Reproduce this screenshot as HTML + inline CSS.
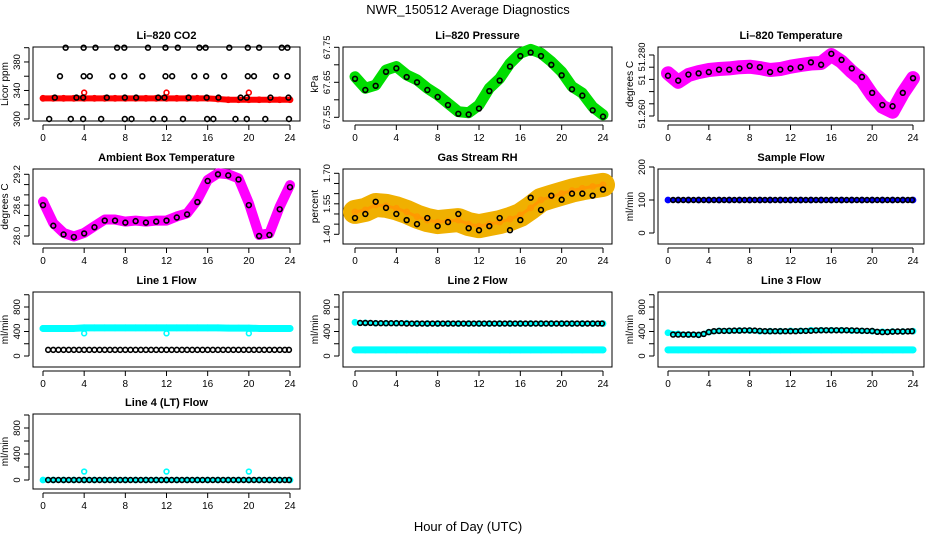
<!DOCTYPE html>
<html><head><meta charset="utf-8"><style>
body{margin:0;background:#fff}
svg{display:block;font-family:"Liberation Sans",sans-serif}
.t{font-size:11px;font-weight:bold;text-anchor:middle}
.tk{font-size:10px}
.yk{font-size:9.5px}
</style></head><body>
<svg id="c" width="936" height="540" viewBox="0 0 936 540">
<text x="468" y="14" font-size="13" text-anchor="middle">NWR_150512  Average Diagnostics</text>
<text x="468" y="531" font-size="13" text-anchor="middle">Hour of Day (UTC)</text>
</svg>
<script>
const H=[0,1,2,3,4,5,6,7,8,9,10,11,12,13,14,15,16,17,18,19,20,21,22,23,24];
const HH=[0.5,1,1.5,2,2.5,3,3.5,4,4.5,5,5.5,6,6.5,7,7.5,8,8.5,9,9.5,10,10.5,11,11.5,12,12.5,13,13.5,14,14.5,15,15.5,16,16.5,17,17.5,18,18.5,19,19.5,20,20.5,21,21.5,22,22.5,23,23.5,23.9];
// CO2
const co2Red=[329,329,329,329,329,329,329,329,329,329,329,329,329,329,329,329,329,328,327,327,327,327,327,327,327];
const co2OutH=[4,12,20], co2OutV=[337,337,337];
const co2BH=[2.2,3.95,5.1,7.2,7.9,10.2,11.9,13.1,15.2,15.8,18.1,19.9,21.0,23.2,23.75,1.65,3.95,4.55,6.75,7.9,9.65,11.9,12.55,14.7,15.85,17.6,19.9,20.5,22.65,23.75,1.15,3.25,3.9,6.2,7.95,9.05,11.2,11.8,14.15,15.9,17.05,19.2,19.8,22.1,23.85,0.6,2.7,3.9,5.65,7.95,8.6,10.7,11.8,13.6,15.95,16.55,18.7,19.8,21.6,23.9];
const co2BV=[400,400,400,400,400,400,400,400,400,400,400,400,400,400,400,360,360,360,360,360,360,360,360,360,360,360,360,360,360,360,330,330,330,330,330,330,330,330,330,330,330,330,330,330,330,300,300,300,300,300,300,300,300,300,300,300,300,300,300,300];
// Pressure
const presG=[67.666,67.633,67.642,67.685,67.695,67.671,67.657,67.633,67.614,67.59,67.566,67.563,67.585,67.633,67.661,67.704,67.733,67.744,67.733,67.709,67.68,67.638,67.619,67.58,67.557];
const presB=[67.660,67.628,67.640,67.680,67.690,67.665,67.650,67.628,67.608,67.585,67.56,67.558,67.575,67.625,67.655,67.695,67.725,67.735,67.725,67.700,67.670,67.630,67.612,67.570,67.552];
// Li-820 temperature (axis units)
const tempM=[3.5,2.8,3.36,3.6,3.77,3.85,3.9,4.0,4.04,3.93,3.77,3.85,4.04,4.18,4.3,4.34,5.0,4.45,3.63,2.95,1.72,0.76,0.35,1.86,3.1];
const tempB=[3.3,2.9,3.4,3.5,3.6,3.8,3.8,3.9,4.1,4.0,3.6,3.8,3.9,4.0,4.4,4.2,5.1,4.6,3.9,3.2,1.9,0.9,0.8,1.9,3.1];
// Box temperature
const boxM=[28.67,28.25,28.06,27.99,28.06,28.19,28.32,28.32,28.28,28.3,28.28,28.3,28.3,28.38,28.44,28.7,29.09,29.22,29.2,29.12,28.64,28.02,28.05,28.57,28.99];
const boxB=[28.6,28.2,28.03,27.98,28.05,28.17,28.3,28.3,28.26,28.29,28.26,28.28,28.3,28.36,28.42,28.66,29.07,29.2,29.18,29.1,28.6,28.0,28.02,28.52,28.95];
// RH
const rhO=[1.51,1.52,1.544,1.54,1.528,1.51,1.487,1.47,1.46,1.465,1.47,1.45,1.44,1.45,1.46,1.475,1.495,1.53,1.569,1.585,1.60,1.615,1.626,1.635,1.643];
const rhB=[1.48,1.50,1.56,1.53,1.50,1.47,1.45,1.48,1.44,1.46,1.50,1.43,1.42,1.44,1.48,1.42,1.47,1.58,1.52,1.59,1.57,1.60,1.60,1.59,1.62];
// Flows
const sampB=[100,100,100,100,100,100,100,100,100,100,100,100,100,100,100,100,100,100,100,100,100,100,100,100,100];
const sampBH=[100,100,100,100,100,100,100,100,100,100,100,100,100,100,100,100,100,100,100,100,100,100,100,100,100,100,100,100,100,100,100,100,100,100,100,100,100,100,100,100,100,100,100,100,100,100,100,100];
const l1Cy=[450,450,450,450,460,460,460,460,460,460,460,460,460,460,460,460,460,460,455,455,455,450,450,450,450];
const l1Out=[370,370,370];
const l1B=[100,100,100,100,100,100,100,100,100,100,100,100,100,100,100,100,100,100,100,100,100,100,100,100,100,100,100,100,100,100,100,100,100,100,100,100,100,100,100,100,100,100,100,100,100,100,100,100];
const l2Cy=[100,100,100,100,100,100,100,100,100,100,100,100,100,100,100,100,100,100,100,100,100,100,100,100,100];
const l2Up=[550,540,535,535,535,535,530,530,530,530,530,530,530,530,530,530,530,530,530,530,530,530,530,530,530];
const l2B=[540,540,540,535,535,535,535,535,535,530,530,530,530,530,530,530,530,530,530,530,530,530,530,530,530,530,530,530,530,530,530,530,530,530,530,530,530,530,530,530,530,530,530,530,530,530,530,530];
const l3Cy=[100,100,100,100,100,100,100,100,100,100,100,100,100,100,100,100,100,100,100,100,100,100,100,100,100];
const l3Up=[380,360,350,345,390,410,410,415,415,405,405,405,410,410,420,420,420,420,415,410,405,395,400,400,405];
const l3B=[350,350,350,350,350,345,360,390,405,410,410,412,415,415,418,418,415,410,405,405,405,405,405,405,405,410,410,412,418,420,420,420,420,420,420,418,415,412,410,408,395,390,392,398,400,400,402,405];
const l4B=[0,0,0,0,0,0,0,0,0,0,0,0,0,0,0,0,0,0,0,0,0,0,0,0,0,0,0,0,0,0,0,0,0,0,0,0,0,0,0,0,0,0,0,0,0,0,0,0];
const l4Cy=[0,0,0,0,0,0,0,0,0,0,0,0,0,0,0,0,0,0,0,0,0,0,0,0,0];
const l4Out=[130,130,130];
const outH=[4,12,20];
const xTicks=[0,4,8,12,16,20,24];

const svg=document.getElementById('c');
const NS='http://www.w3.org/2000/svg';
function el(tag,attrs,parent){const e=document.createElementNS(NS,tag);for(const k in attrs)e.setAttribute(k,attrs[k]);(parent||svg).appendChild(e);return e;}
const cols=[[33,300,43,290],[343,612,355,603],[658,924,668,913]];
const rows=[[47,121],[169,244],[292,367],[414,489]];
function lin(a,b,c,d){return v=>c+(v-a)*(d-c)/(b-a);}

function panel(o){
  const [bx0,bx1,h0,h24]=cols[o.col];const [by0,by1]=rows[o.row];
  const g=el('g',{});
  
  
  const X=lin(0,24,h0,h24);const Y=lin(o.ya[0],o.yb[0],o.ya[1],o.yb[1]);
  const t=el('text',{x:(bx0+bx1)/2,y:by0-8,class:'t'},g);t.textContent=o.title;
  
  
  const b=el('rect',{x:bx0,y:by0,width:bx1-bx0,height:by1-by0,fill:'none',stroke:'#000','stroke-width':1},g);
  
  
  el('line',{x1:X(0),x2:X(24),y1:by1+4,y2:by1+4,stroke:'#000'},g);
  xTicks.forEach(v=>{el('line',{x1:X(v),x2:X(v),y1:by1+4,y2:by1+9,stroke:'#000'},g);
    const tx=el('text',{x:X(v),y:by1+20,class:'tk','text-anchor':'middle'},g);tx.textContent=v;
    
    });
  const ax=bx0-4;
  el('line',{x1:ax,x2:ax,y1:Y(o.ticks[0]),y2:Y(o.ticks[o.ticks.length-1]),stroke:'#000'},g);
  o.ticks.forEach(v=>el('line',{x1:ax-5,x2:ax,y1:Y(v),y2:Y(v),stroke:'#000'},g));
  o.labels.forEach((l,i)=>{const yy=o.labelY?o.labelY[i]:Y(o.labelV[i]);
    const tx=el('text',{x:0,y:0,class:'yk','text-anchor':'middle',transform:`translate(${ax-9},${yy}) rotate(-90)`},g);tx.textContent=l;
    
    });
  const yl=el('text',{x:0,y:0,'font-size':10,'text-anchor':'middle',transform:`translate(${ax-21},${(by0+by1)/2}) rotate(-90)`},g);yl.textContent=o.ylab;
  
  
  return {g,X,Y};
}
function band(p,hs,vs,color,w,name){
  const pl=el('polyline',{points:hs.map((h,i)=>p.X(h)+','+p.Y(vs[i])).join(' '),fill:'none',stroke:color,'stroke-width':w,'stroke-linejoin':'round','stroke-linecap':'round'},p.g);
  
  
  hs.forEach((h,i)=>{const c=el('circle',{cx:p.X(h),cy:p.Y(vs[i]),r:2.6,fill:'none',stroke:color,'stroke-width':1.6},p.g);
    
    });
}
function pts(p,hs,vs,color,name){
  hs.forEach((h,i)=>{const c=el('circle',{cx:p.X(h),cy:p.Y(vs[i]),r:2.4,fill:'none',stroke:color,'stroke-width':1.6},p.g);
    
    });
}
const flowTicks=[0,200,400,600,800,1000];
let p=panel({name:'co2-panel',title:'Li\u2013820 CO2',col:0,row:0,ya:[300,119],yb:[400,47.7],ticks:[300,320,340,360,380,400],labels:['300','340','380'],labelV:[300,340,380],ylab:'Licor ppm'});
band(p,H,co2Red,'#ff0000',6,'co2-series');pts(p,co2OutH,co2OutV,'#ff0000','co2-outlier');pts(p,co2BH,co2BV,'#000','co2-average-point');
p=panel({name:'pressure-panel',title:'Li\u2013820 Pressure',col:1,row:0,ya:[67.55,117.3],yb:[67.75,47.3],ticks:[67.55,67.6,67.65,67.7,67.75],labels:['67.55','67.65','67.75'],labelV:[67.55,67.65,67.75],ylab:'kPa'});
band(p,H,presG,'#00dd00',11,'pressure-series');pts(p,H,presB,'#000','pressure-average-point');
p=panel({name:'temperature-panel',title:'Li\u2013820 Temperature',col:2,row:0,ya:[0,116],yb:[5,55],ticks:[0,1,2,3,4,5],labels:['51.260','51','51.280'],labelY:[114,80,57],ylab:'degrees C'});
band(p,H,tempM,'#ff00ff',14,'temperature-series');pts(p,H,tempB,'#000','temperature-average-point');
p=panel({name:'box-temperature-panel',title:'Ambient Box Temperature',col:0,row:1,ya:[28.0,236],yb:[29.2,174.3],ticks:[28.0,28.2,28.4,28.6,28.8,29.0,29.2],labels:['28.0','28.6','29.2'],labelV:[28.0,28.6,29.2],ylab:'degrees C'});
band(p,H,boxM,'#ff00ff',10,'box-temperature-series');pts(p,H,boxB,'#000','box-temperature-average-point');
p=panel({name:'rh-panel',title:'Gas Stream RH',col:1,row:1,ya:[1.40,234.3],yb:[1.70,173.3],ticks:[1.40,1.45,1.5,1.55,1.6,1.65,1.7],labels:['1.40','1.55','1.70'],labelV:[1.40,1.55,1.70],ylab:'percent'});
band(p,H,rhO,'#f0b000',24,'rh-series');band(p,H,rhO,'#ff9900',3,'rh-series-core');pts(p,H,rhB,'#000','rh-average-point');
p=panel({name:'sample-flow-panel',title:'Sample Flow',col:2,row:1,ya:[0,233],yb:[200,167],ticks:[0,100,200],labels:['0','100','200'],labelV:[0,100,200],ylab:'ml/min'});
band(p,H,sampB,'#0000ff',4,'sample-flow-series');pts(p,HH,sampBH,'#000','sample-flow-average-point');
p=panel({name:'line1-flow-panel',title:'Line 1 Flow',col:0,row:2,ya:[0,356],yb:[800,307],ticks:flowTicks,labels:['0','400','800'],labelV:[0,400,800],ylab:'ml/min'});
band(p,H,l1Cy,'#00ffff',7,'line1-cyan-series');pts(p,outH,l1Out,'#00ffff','line1-outlier');pts(p,HH,l1B,'#000','line1-average-point');
p=panel({name:'line2-flow-panel',title:'Line 2 Flow',col:1,row:2,ya:[0,356],yb:[800,307],ticks:flowTicks,labels:['0','400','800'],labelV:[0,400,800],ylab:'ml/min'});
band(p,H,l2Cy,'#00ffff',7,'line2-cyan-series');band(p,H,l2Up,'#00ffff',4,'line2-cyan-upper');pts(p,HH,l2B,'#000','line2-average-point');
p=panel({name:'line3-flow-panel',title:'Line 3 Flow',col:2,row:2,ya:[0,356],yb:[800,307],ticks:flowTicks,labels:['0','400','800'],labelV:[0,400,800],ylab:'ml/min'});
band(p,H,l3Cy,'#00ffff',7,'line3-cyan-series');band(p,H,l3Up,'#00ffff',5,'line3-cyan-upper');pts(p,HH,l3B,'#000','line3-average-point');
p=panel({name:'line4-flow-panel',title:'Line 4 (LT) Flow',col:0,row:3,ya:[0,480],yb:[800,428],ticks:flowTicks,labels:['0','400','800'],labelV:[0,400,800],ylab:'ml/min'});
band(p,H,l4Cy,'#00ffff',5,'line4-cyan-series');pts(p,outH,l4Out,'#00ffff','line4-outlier');pts(p,HH,l4B,'#000','line4-average-point');
</script>
</body></html>
